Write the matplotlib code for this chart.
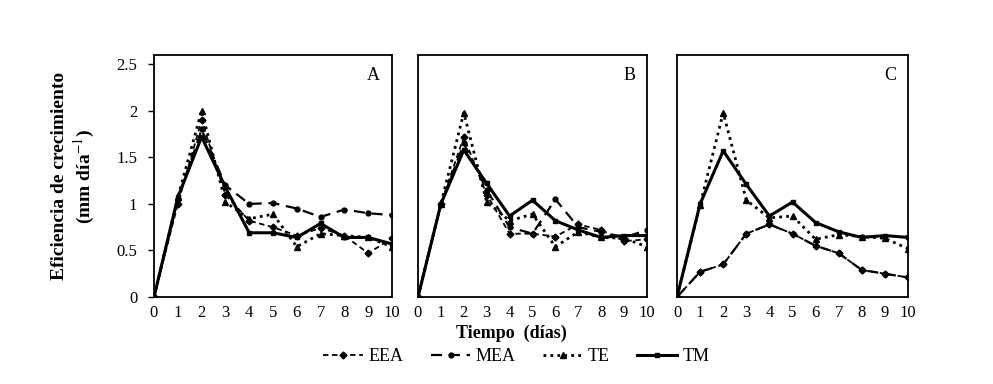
import numpy as np
import matplotlib.pyplot as plt

plt.rcParams['font.family'] = ['Liberation Serif', 'DejaVu Serif']
plt.rcParams['mathtext.fontset'] = 'stix'

dias = np.arange(0, 11)
x_labels = [str(d) for d in dias]
paneles = ['A', 'B', 'C']

# Eficiencia de crecimiento (mm dia-1) por panel
eea = {
    'A': [0, 1.0, 1.9, 1.1, 0.82, 0.75, 0.66, 0.74, 0.66, 0.47, 0.63],
    'B': [0, 1.0, 1.72, 1.1, 0.68, 0.68, 0.65, 0.78, 0.72, 0.6, 0.62],
    'C': [0, 0.27, 0.35, 0.68, 0.78, 0.68, 0.55, 0.47, 0.29, 0.25, 0.21],
}
mea = {
    'A': [0, 1.05, 1.8, 1.2, 1.0, 1.01, 0.95, 0.86, 0.94, 0.9, 0.88],
    'B': [0, 1.0, 1.65, 1.15, 0.75, 0.68, 1.05, 0.75, 0.7, 0.64, 0.72],
    'C': [0, 0.27, 0.35, 0.68, 0.78, 0.68, 0.55, 0.47, 0.29, 0.25, 0.21],
}
te = {
    'A': [0, 1.07, 2.0, 1.02, 0.84, 0.89, 0.54, 0.68, 0.66, 0.64, 0.54],
    'B': [0, 1.0, 1.98, 1.02, 0.82, 0.89, 0.54, 0.70, 0.64, 0.63, 0.54],
    'C': [0, 0.99, 1.98, 1.04, 0.85, 0.87, 0.62, 0.67, 0.65, 0.63, 0.52],
}
tm = {
    'A': [0, 1.07, 1.72, 1.18, 0.69, 0.69, 0.64, 0.79, 0.64, 0.64, 0.57],
    'B': [0, 1.0, 1.58, 1.22, 0.87, 1.04, 0.82, 0.72, 0.64, 0.66, 0.66],
    'C': [0, 1.0, 1.57, 1.21, 0.87, 1.02, 0.8, 0.7, 0.64, 0.66, 0.64],
}

fig = plt.figure(figsize=(9.93, 3.84), dpi=100)
lefts = [154, 418, 677]
widths = [238, 229, 231]
axes = []
for i, p in enumerate(paneles):
    ax = fig.add_axes([lefts[i] / 993, 87 / 384, widths[i] / 993, 242 / 384])
    axes.append(ax)
    h1, = ax.plot(dias, eea[p], color='black', ls=(0, (3, 2)), lw=1.3,
                  marker='D', ms=3.5, label='EEA')
    h2, = ax.plot(dias, mea[p], color='black', ls=(0, (5, 3)), lw=1.6,
                  marker='o', ms=3.5, label='MEA')
    h3, = ax.plot(dias, te[p], color='black', ls=(0, (1, 1.5)), lw=2,
                  marker='^', ms=5, label='TE')
    h4, = ax.plot(dias, tm[p], color='black', ls='-', lw=2.2,
                  marker='s', ms=3.5, label='TM')
    ax.set_xlim(0, 10)
    ax.set_ylim(0, 2.6)
    ax.set_xticks(dias)
    ax.set_xticklabels(x_labels, fontsize=12)
    ax.tick_params(axis='x', which='major', length=0, pad=6)
    ax.set_xticks(np.arange(0, 11, 2), minor=True)
    ax.tick_params(axis='x', which='minor', length=4, width=1, direction='out')
    ax.set_yticks([0, 0.5, 1, 1.5, 2, 2.5])
    if i == 0:
        ax.set_yticklabels(['0', '0.5', '1', '1.5', '2', '2.5'], fontsize=12)
        ax.tick_params(axis='y', length=4, width=1, pad=8)
    else:
        ax.tick_params(axis='y', length=0, labelleft=False)
    for s in ax.spines.values():
        s.set_linewidth(1.3)
    ax.text(0.95, 0.95, p, transform=ax.transAxes, ha='right', va='top', fontsize=13)

axes[0].set_ylabel('Eficiencia de crecimiento\n(mm día$^{-1}$)', fontsize=14,
                   fontweight='bold', labelpad=14)
fig.text(0.515, 0.132, 'Tiempo  (días)', ha='center', va='center',
         fontsize=13, fontweight='bold')
fig.legend(handles=[h1, h2, h3, h4], loc='center', bbox_to_anchor=(0.52, 0.072),
           ncol=4, frameon=False, fontsize=13, handlelength=2.2,
           columnspacing=1.5, handletextpad=0.3)

plt.savefig('out.png', dpi=100)
